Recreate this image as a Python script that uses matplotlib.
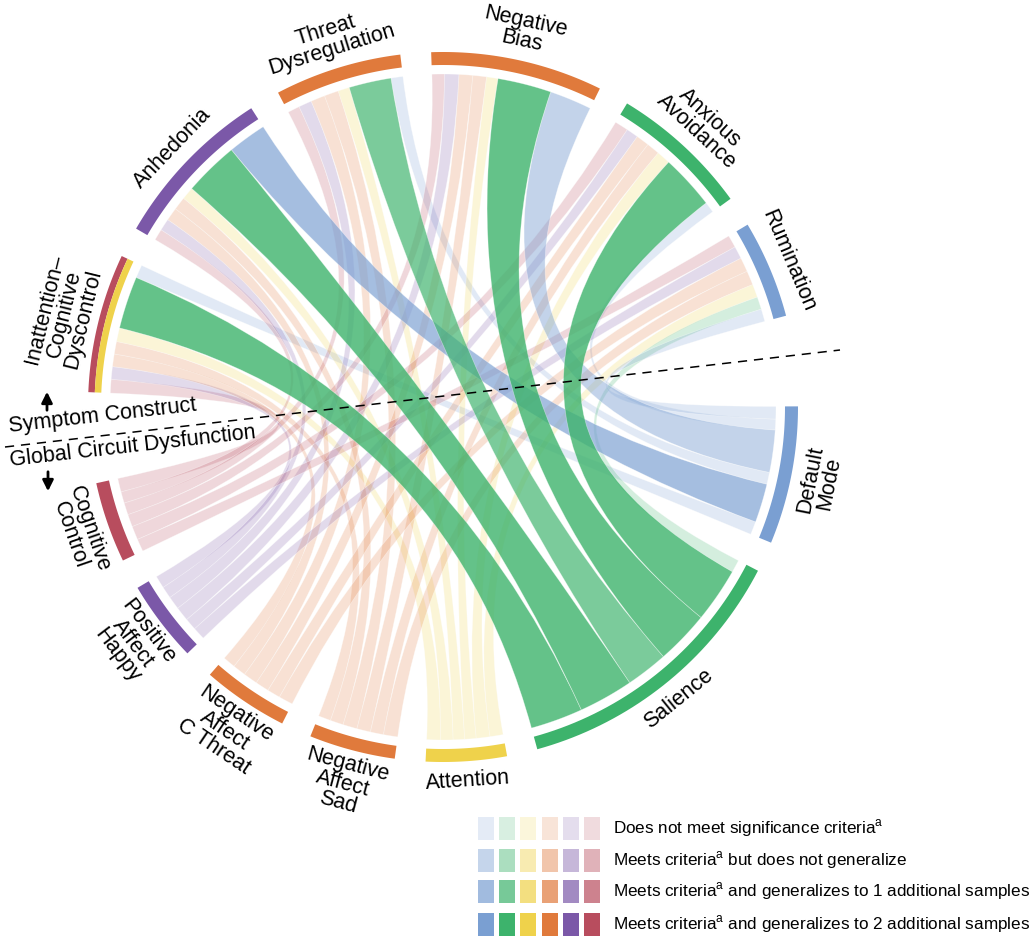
import numpy as np
import matplotlib.pyplot as plt
from matplotlib.path import Path
from matplotlib.patches import PathPatch, Polygon, Rectangle
import matplotlib.colors as mcolors

plt.rcParams['font.family'] = ['Liberation Sans', 'DejaVu Sans']
plt.rcParams['mathtext.fontset'] = 'custom'
plt.rcParams['mathtext.rm'] = 'Liberation Sans'

# --- data ---
symptoms = ['Inattention–\nCognitive\nDyscontrol', 'Anhedonia', 'Threat\nDysregulation',
            'Negative\nBias', 'Anxious\nAvoidance', 'Rumination']
circuits = ['Default\nMode', 'Salience', 'Attention', 'Negative\nAffect\nSad',
            'Negative\nAffect\nC Threat', 'Positive\nAffect\nHappy', 'Cognitive\nControl']

# link widths, one list per symptom, columns follow `circuits`
inattention = [2.3, 9.2, 2.4, 2.2, 2.2, 2.2, 2.4]
anhedonia = [6.8, 9.6, 2.2, 2.3, 2.3, 2.1, 2.0]
threat_dys = [2.1, 7.4, 2.0, 2.5, 2.5, 2.3, 2.1]
negative_bias = [7.4, 9.4, 2.0, 2.4, 2.4, 2.5, 2.2]
anxious_avoid = [1.9, 9.6, 2.4, 2.3, 2.3, 2.1, 2.4]
rumination = [2.2, 2.2, 2.3, 2.5, 2.5, 2.2, 2.2]

# 0 = not significant, 1 = meets criteria, 2 = generalizes to 1, 3 = generalizes to 2
inattention_lvl = [0, 3, 0, 0, 0, 0, 0]
anhedonia_lvl = [2, 3, 0, 0, 0, 0, 0]
threat_dys_lvl = [0, 2, 0, 0, 0, 0, 0]
negative_bias_lvl = [1, 3, 0, 0, 0, 0, 0]
anxious_avoid_lvl = [0, 3, 0, 0, 0, 0, 0]
rumination_lvl = [0, 0, 0, 0, 0, 0, 0]

legend_labels = ['Does not meet significance criteria$^{\\mathrm{a}}$',
                 'Meets criteria$^{\\mathrm{a}}$ but does not generalize',
                 'Meets criteria$^{\\mathrm{a}}$ and generalizes to 1 additional samples',
                 'Meets criteria$^{\\mathrm{a}}$ and generalizes to 2 additional samples']

widths = np.array([inattention, anhedonia, threat_dys, negative_bias, anxious_avoid, rumination])
levels = np.array([inattention_lvl, anhedonia_lvl, threat_dys_lvl, negative_bias_lvl,
                   anxious_avoid_lvl, rumination_lvl])

# --- colours ---
blue, green, yellow = '#7a9fd2', '#3db36c', '#efd24b'
orange, purple, red = '#e07a3c', '#7b58a8', '#b84d5e'
circuit_colors = [blue, green, yellow, orange, orange, purple, red]
symptom_colors = [[red, yellow], [purple], [orange], [orange], [green], [blue]]
ribbon_alpha = [0.22, 0.45, 0.68, 0.8]
legend_alpha = [0.2, 0.43, 0.7, 1.0]
legend_colors = [blue, green, yellow, orange, purple, red]

# --- layout (pixel coordinates) ---
CX, CY = 443, 407
R_OUT, R_IN, R_RIB = 355, 342, 333
GAP, BIG_GAP, START = 5.0, 14.8, 177.6

total = widths.sum()
scale = (360 - 11 * GAP - 2 * BIG_GAP) / (2 * total)


def pt(theta, r):
    t = np.radians(theta)
    return CX + r * np.cos(t), CY - r * np.sin(t)


def arc_pts(a0, a1, r, n=40):
    th = np.radians(np.linspace(a0, a1, n))
    return np.column_stack([CX + r * np.cos(th), CY - r * np.sin(th)])


# sector positions (angles decrease clockwise)
sym_sectors, cir_sectors = [], []
angle = START
for i in range(len(symptoms)):
    span = widths[i].sum() * scale
    sym_sectors.append((angle, angle - span))
    angle -= span + (GAP if i < len(symptoms) - 1 else BIG_GAP)
for j in range(len(circuits)):
    span = widths[:, j].sum() * scale
    cir_sectors.append((angle, angle - span))
    angle -= span + GAP

# link end positions: symptoms list circuits reversed, circuits list symptoms reversed
sym_ends = {}
for i, (a0, _) in enumerate(sym_sectors):
    a = a0
    for j in reversed(range(len(circuits))):
        w = widths[i, j] * scale
        sym_ends[(i, j)] = (a, a - w)
        a -= w
cir_ends = {}
for j, (b0, _) in enumerate(cir_sectors):
    b = b0
    for i in reversed(range(len(symptoms))):
        w = widths[i, j] * scale
        cir_ends[(i, j)] = (b, b - w)
        b -= w

fig = plt.figure(figsize=(10.35, 9.41), dpi=100)
ax = fig.add_axes([0, 0, 1, 1])
ax.set_xlim(0, 1035)
ax.set_ylim(941, 0)
ax.axis('off')

# ribbons, faint ones first
links = sorted(sym_ends.keys(), key=lambda k: levels[k])
for (i, j) in links:
    a0, a1 = sym_ends[(i, j)]
    b0, b1 = cir_ends[(i, j)]
    pa = arc_pts(a0, a1, R_RIB)
    pb = arc_pts(b0, b1, R_RIB)
    verts = list(pa) + [(CX, CY), tuple(pb[0])] + list(pb[1:]) + [(CX, CY), tuple(pa[0]), tuple(pa[0])]
    codes = ([Path.MOVETO] + [Path.LINETO] * (len(pa) - 1) + [Path.CURVE3, Path.CURVE3]
             + [Path.LINETO] * (len(pb) - 1) + [Path.CURVE3, Path.CURVE3, Path.CLOSEPOLY])
    fc = mcolors.to_rgba(circuit_colors[j], ribbon_alpha[levels[i, j]])
    ax.add_patch(PathPatch(Path(verts, codes), facecolor=fc,
                           edgecolor=(1, 1, 1, 0.4), lw=0.5))


def band(a0, a1, r_in, r_out, color):
    pts = np.vstack([arc_pts(a0, a1, r_out), arc_pts(a1, a0, r_in)])
    ax.add_patch(Polygon(pts, closed=True, facecolor=color, edgecolor='none'))


def label(text, a0, a1, upper):
    mid = (a0 + a1) / 2
    nl = text.count('\n') + 1
    r = {1: 375, 2: 384, 3: 390}[nl]
    x, y = pt(mid, r)
    rot = mid - 90 if upper else mid + 90
    ax.text(x, y, text, rotation=rot, rotation_mode='anchor', ha='center', va='center',
            multialignment='center', fontsize=15.5, linespacing=0.92)


# outer arcs and labels
for i, (a0, a1) in enumerate(sym_sectors):
    cols = symptom_colors[i]
    step = (R_OUT - R_IN) / len(cols)
    for k, c in enumerate(cols):
        band(a0, a1, R_OUT - step * (k + 1), R_OUT - step * k, c)
    label(symptoms[i], a0, a1, True)
for j, (b0, b1) in enumerate(cir_sectors):
    band(b0, b1, R_IN, R_OUT, circuit_colors[j])
    label(circuits[j], b0, b1, False)

# divider between symptom constructs and circuits
ax.plot([5, 840], [447, 350], color='black', lw=1.1, ls=(0, (6, 4.5)))
ax.text(103, 416, 'Symptom Construct', rotation=6.5, rotation_mode='anchor',
        ha='center', va='center', fontsize=15.5)
ax.text(133, 447, 'Global Circuit Dysfunction', rotation=6.5, rotation_mode='anchor',
        ha='center', va='center', fontsize=15.5)
ax.annotate('', xy=(47, 389), xytext=(47, 413),
            arrowprops=dict(arrowstyle='-|>', color='black', lw=2, mutation_scale=16))
ax.annotate('', xy=(48, 494), xytext=(48, 469),
            arrowprops=dict(arrowstyle='-|>', color='black', lw=2, mutation_scale=16))

# legend
row_y = [828.5, 860, 891.5, 924]
for r, lab in enumerate(legend_labels):
    for k, c in enumerate(legend_colors):
        ax.add_patch(Rectangle((478 + 21.2 * k, row_y[r] - 11.5), 16, 23,
                               facecolor=mcolors.to_rgba(c, legend_alpha[r]), edgecolor='none'))
    ax.text(613, row_y[r], lab, ha='left', va='center', fontsize=12.3)

fig.savefig('out.png', dpi=100)
